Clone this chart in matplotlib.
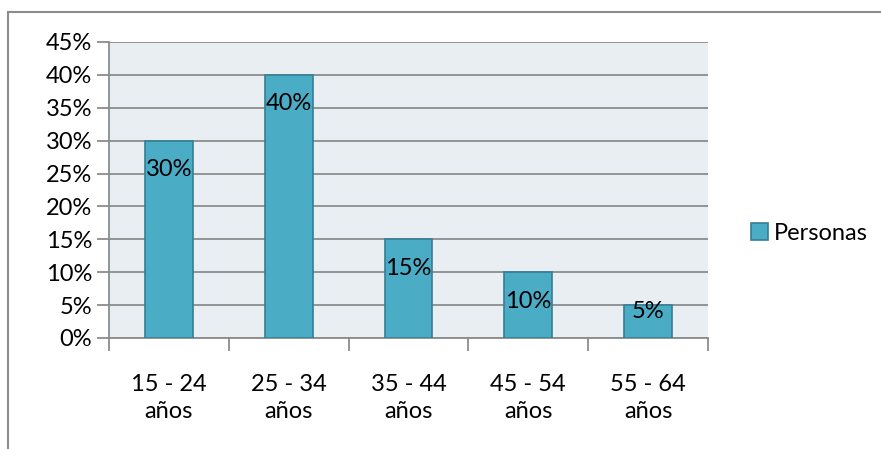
import matplotlib.pyplot as plt
from matplotlib.lines import Line2D
from matplotlib.ticker import FuncFormatter

# data
categories = ["15 - 24\naños", "25 - 34\naños", "35 - 44\naños", "45 - 54\naños", "55 - 64\naños"]
personas = [30, 40, 15, 10, 5]
yticks = [0, 5, 10, 15, 20, 25, 30, 35, 40, 45]

plt.rcParams['font.family'] = ['Lato', 'DejaVu Sans']
fs = 17

W, H = 881, 449
fig = plt.figure(figsize=(W / 100, H / 100), dpi=100)
ax = fig.add_axes([109 / W, 1 - 338 / H, (708 - 109) / W, (338 - 42) / H])

bar_color = "#4BACC6"
edge_color = "#357F94"
grid_color = "#8C8C8C"

ax.set_facecolor("#E8EEF2")
x = list(range(len(categories)))
ax.bar(x, personas, width=0.4, color=bar_color, edgecolor=edge_color,
       linewidth=1.2, zorder=3, label="Personas")

# labels near bar end
for xi, v in zip(x, personas):
    ly = v - 4.4 if v > 8 else v - 0.9
    ax.text(xi, ly, f"{v}%", ha="center", va="center", fontsize=fs, zorder=4)

ax.set_xlim(-0.5, len(categories) - 0.5)
ax.set_ylim(0, 45)
ax.set_yticks(yticks)
ax.yaxis.set_major_formatter(FuncFormatter(lambda v, p: f"{int(v)}%"))
ax.tick_params(axis="y", labelsize=fs)
ax.grid(axis="y", color=grid_color, linewidth=1.3, zorder=1)
ax.set_axisbelow(True)

# category ticks on boundaries, labels centered on bars
ax.set_xticks([i - 0.5 for i in range(len(categories) + 1)])
ax.set_xticklabels([""] * (len(categories) + 1))
ax.set_xticks(x, minor=True)
ax.set_xticklabels(categories, minor=True, linespacing=1.35, fontsize=fs)
ax.tick_params(axis="x", which="minor", length=0, pad=26)
ax.tick_params(axis="x", which="major", length=9, color=grid_color, width=1.3)
ax.tick_params(axis="y", length=9, color=grid_color, width=1.3, pad=3)

for s in ["top", "right"]:
    ax.spines[s].set_visible(False)
for s in ["left", "bottom"]:
    ax.spines[s].set_color(grid_color)
    ax.spines[s].set_linewidth(1.3)

ax.legend(loc="center left", bbox_to_anchor=(730 / W, 1 - 233 / H),
          bbox_transform=fig.transFigure, frameon=False, handlelength=0.7,
          handleheight=0.7, handletextpad=0.25, fontsize=fs)

# outer chart border
fig.add_artist(Line2D([8 / W, 1], [1 - 12 / H, 1 - 12 / H], color="#8C8C8C", linewidth=1.5, transform=fig.transFigure))
fig.add_artist(Line2D([8 / W, 8 / W], [0, 1 - 12 / H], color="#8C8C8C", linewidth=1.5, transform=fig.transFigure))

fig.savefig("out.png", dpi=100)
